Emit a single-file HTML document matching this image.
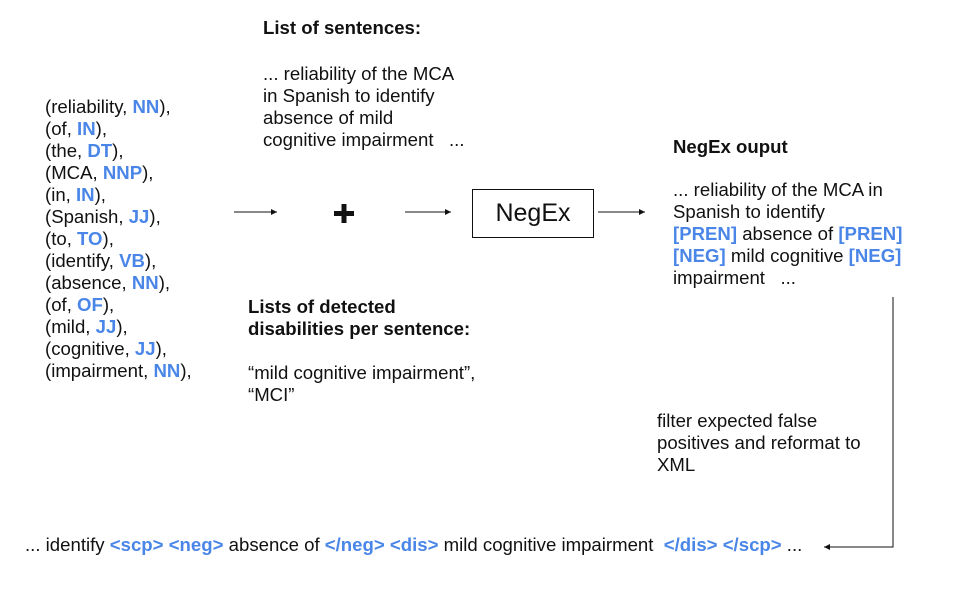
<!DOCTYPE html>
<html><head><meta charset="utf-8"><style>
body{margin:0;width:957px;height:594px;background:#fff;position:relative;overflow:hidden;font-family:"Liberation Sans",Arial,sans-serif;font-size:18.6px;color:#111}
.t{position:absolute;line-height:22px;white-space:pre}
b{font-weight:bold}
.c{color:#4a86e8;font-weight:bold}
</style></head><body>
<div class="t" style="left:45px;top:96px">(reliability, <span class="c">NN</span>),
(of, <span class="c">IN</span>),
(the, <span class="c">DT</span>),
(MCA, <span class="c">NNP</span>),
(in, <span class="c">IN</span>),
(Spanish, <span class="c">JJ</span>),
(to, <span class="c">TO</span>),
(identify, <span class="c">VB</span>),
(absence, <span class="c">NN</span>),
(of, <span class="c">OF</span>),
(mild, <span class="c">JJ</span>),
(cognitive, <span class="c">JJ</span>),
(impairment, <span class="c">NN</span>),</div>
<div class="t" style="left:263px;top:17px"><b>List of sentences:</b></div>
<div class="t" style="left:263px;top:63px">... reliability of the MCA
in Spanish to identify
absence of mild
cognitive impairment   ...</div>
<div class="t" style="left:248px;top:296px"><b>Lists of detected
disabilities per sentence:</b></div>
<div class="t" style="left:248px;top:362px">“mild cognitive impairment”,
“MCI”</div>
<div class="t" style="left:673px;top:136px"><b>NegEx ouput</b></div>
<div class="t" style="left:673px;top:179px">... reliability of the MCA in
Spanish to identify
<span class="c">[PREN]</span> absence of <span class="c">[PREN]</span>
<span class="c">[NEG]</span> mild cognitive <span class="c">[NEG]</span>
impairment   ...</div>
<div class="t" style="left:657px;top:410px">filter expected false
positives and reformat to
XML</div>
<div class="t" style="left:25px;top:534px">... identify <span class="c">&lt;scp&gt;</span> <span class="c">&lt;neg&gt;</span> absence of <span class="c">&lt;/neg&gt;</span> <span class="c">&lt;dis&gt;</span> mild cognitive impairment  <span class="c">&lt;/dis&gt;</span> <span class="c">&lt;/scp&gt;</span> ...</div>
<div style="position:absolute;left:472px;top:189px;width:120px;height:47px;border:1px solid #111;text-align:center;line-height:47px;font-size:25px">NegEx</div>
<svg style="position:absolute;left:0;top:0" width="957" height="594">
<defs><marker id="a" markerWidth="6" markerHeight="6" refX="6" refY="3" orient="auto" markerUnits="userSpaceOnUse"><path d="M0,0L6,3L0,6z" fill="#111"/></marker></defs>
<g stroke="#111" stroke-width="1" fill="none">
<line x1="234" y1="212" x2="277" y2="212" marker-end="url(#a)"/>
<line x1="405" y1="212" x2="451" y2="212" marker-end="url(#a)"/>
<line x1="598" y1="212" x2="645" y2="212" marker-end="url(#a)"/>
<polyline points="893,297 893,547 824,547" marker-end="url(#a)"/>
</g>
<g fill="#111"><rect x="334" y="211" width="20" height="5"/><rect x="341.5" y="204" width="5" height="19"/></g>
</svg>
</body></html>
